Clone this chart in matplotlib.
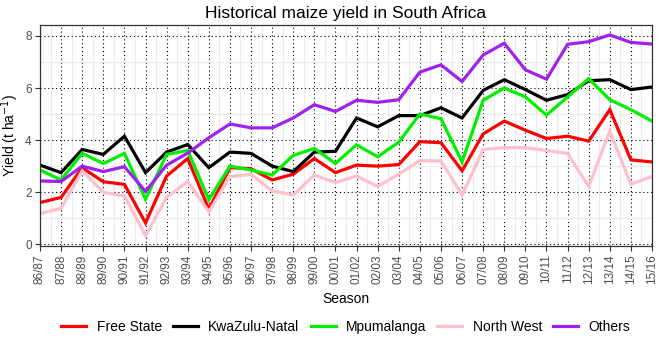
import matplotlib
matplotlib.use("Agg")
import matplotlib.pyplot as plt
import numpy as np

plt.rcParams['font.family'] = ['Liberation Sans', 'DejaVu Sans']

seasons = ["86/87", "87/88", "88/89", "89/90", "90/91", "91/92", "92/93", "93/94",
           "94/95", "95/96", "96/97", "97/98", "98/99", "99/00", "00/01", "01/02",
           "02/03", "03/04", "04/05", "05/06", "06/07", "07/08", "08/09", "09/10",
           "10/11", "11/12", "12/13", "13/14", "14/15", "15/16"]

free_state = [1.60, 1.80, 2.94, 2.40, 2.30, 0.82, 2.62, 3.29, 1.35, 2.94,
              2.90, 2.47, 2.69, 3.29, 2.75, 3.04, 3.00, 3.06, 3.94, 3.90,
              2.82, 4.24, 4.73, 4.38, 4.06, 4.15, 3.96, 5.17, 3.24, 3.16]
kwazulu_natal = [3.04, 2.75, 3.64, 3.45, 4.15, 2.75, 3.54, 3.83, 2.94, 3.54,
                 3.49, 3.00, 2.79, 3.54, 3.57, 4.85, 4.51, 4.94, 4.94, 5.24,
                 4.85, 5.91, 6.32, 5.94, 5.53, 5.75, 6.28, 6.32, 5.94, 6.04]
mpumalanga = [2.85, 2.47, 3.49, 3.10, 3.49, 1.73, 3.45, 3.60, 1.71, 3.00,
              2.85, 2.66, 3.41, 3.68, 3.10, 3.82, 3.36, 3.92, 5.00, 4.82,
              3.16, 5.53, 6.00, 5.66, 4.96, 5.66, 6.36, 5.55, 5.17, 4.73]
north_west = [1.18, 1.38, 2.82, 1.99, 1.86, 0.33, 1.80, 2.41, 1.25, 2.60,
              2.68, 2.05, 1.89, 2.66, 2.37, 2.62, 2.22, 2.69, 3.21, 3.20,
              1.89, 3.64, 3.71, 3.71, 3.60, 3.49, 2.22, 4.34, 2.31, 2.60]
others = [2.43, 2.41, 3.00, 2.79, 2.98, 2.03, 3.04, 3.50, 4.09, 4.62,
          4.47, 4.47, 4.85, 5.36, 5.10, 5.53, 5.45, 5.55, 6.61, 6.89,
          6.25, 7.27, 7.72, 6.70, 6.34, 7.68, 7.78, 8.04, 7.75, 7.69]

series = [("Free State", free_state, "#FF0000"),
          ("KwaZulu-Natal", kwazulu_natal, "#000000"),
          ("Mpumalanga", mpumalanga, "#00F000"),
          ("North West", north_west, "#FFC0CB"),
          ("Others", others, "#A020F0")]

fig = plt.figure(figsize=(6.6, 3.38), dpi=100)
ax = fig.add_axes([0.0606, 0.272, 0.9273, 0.654])

x = np.arange(len(seasons))
for name, vals, col in series:
    ax.plot(x, vals, color=col, lw=2.3, label=name, solid_joinstyle="miter")

ax.set_xlim(0, len(seasons) - 1)
ax.set_ylim(-0.07, 8.42)
ax.set_xticks(x)
ax.set_xticklabels(seasons, rotation=90, fontsize=8.5, color="#4d4d4d")
ax.set_yticks([0, 2, 4, 6, 8])
ax.set_yticklabels(["0", "2", "4", "6", "8"], fontsize=8.5, color="#4d4d4d")
ax.set_xticks(x[:-1] + 0.5, minor=True)
ax.set_yticks([1, 3, 5, 7], minor=True)
ax.tick_params(axis="both", which="major", length=3.5, width=0.8, color="#333333", pad=2.5)
ax.tick_params(axis="both", which="minor", length=0)

ax.grid(which="minor", color="#ebebeb", lw=0.8, ls="-")
ax.grid(which="major", color="#000000", lw=0.8, ls=(0, (1, 2.5)))
ax.set_axisbelow(True)
for sp in ax.spines.values():
    sp.set_color("#333333")
    sp.set_linewidth(0.9)

ax.set_title("Historical maize yield in South Africa", fontsize=12.5, pad=5)
ax.set_xlabel("Season", fontsize=10, labelpad=6)
ax.set_ylabel("Yield (t ha$^{-1}$)", fontsize=10, labelpad=3)

fig.legend(loc="center", bbox_to_anchor=(0.524, 0.032), ncol=5, frameon=False,
           fontsize=10, handlelength=1.8, handletextpad=0.75, columnspacing=0.8)

fig.savefig("out.png", dpi=100)
